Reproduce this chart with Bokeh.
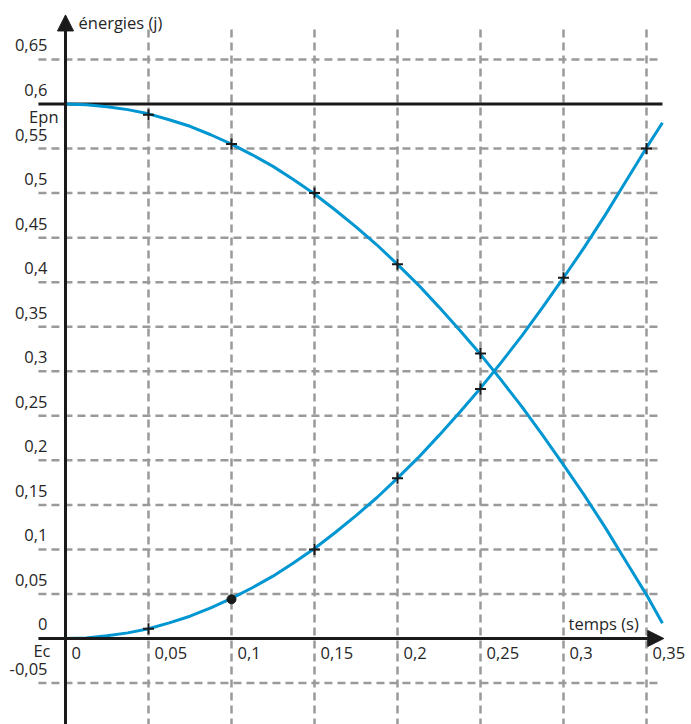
from bokeh.plotting import figure
from bokeh.models import Range1d, Arrow, NormalHead
from bokeh.core.properties import value
from bokeh.embed import file_html
from bokeh.resources import INLINE

# ---- data ----
t_curve = [0, 0.0125, 0.025, 0.0375, 0.05, 0.0625, 0.075, 0.0875, 0.1, 0.1125, 0.125,
           0.1375, 0.15, 0.1625, 0.175, 0.1875, 0.2, 0.2125, 0.225, 0.2375, 0.25,
           0.2625, 0.275, 0.2875, 0.3, 0.3125, 0.325, 0.3375, 0.35, 0.3596]
ec_curve = [0, 0.0007, 0.003, 0.0063, 0.011, 0.0176, 0.025, 0.0345, 0.045, 0.057, 0.07,
            0.085, 0.101, 0.119, 0.138, 0.158, 0.18, 0.203, 0.228, 0.254, 0.281,
            0.31, 0.34, 0.372, 0.405, 0.439, 0.475, 0.513, 0.551, 0.579]
ep_curve = [0.6, 0.5993, 0.597, 0.5937, 0.589, 0.5824, 0.575, 0.5655, 0.555, 0.543, 0.53,
            0.515, 0.499, 0.481, 0.462, 0.442, 0.42, 0.397, 0.372, 0.346, 0.319,
            0.29, 0.26, 0.228, 0.195, 0.161, 0.125, 0.087, 0.049, 0.017]

t_ep_pts = [0.05, 0.1, 0.15, 0.2, 0.25]
ep_pts = [0.588, 0.555, 0.5, 0.42, 0.32]
t_ec_pts = [0.05, 0.15, 0.2, 0.25, 0.3, 0.35]
ec_pts = [0.011, 0.1, 0.18, 0.28, 0.405, 0.55]
t_dot = [0.1]
ec_dot = [0.044]

em_total = 0.6

x_ticks = [0, 0.05, 0.1, 0.15, 0.2, 0.25, 0.3, 0.35]
x_labels = ["0", "0,05", "0,1", "0,15", "0,2", "0,25", "0,3", "0,35"]
y_ticks = [-0.05, 0, 0.05, 0.1, 0.15, 0.2, 0.25, 0.3, 0.35, 0.4, 0.45, 0.5, 0.55, 0.6, 0.65]
y_labels = ["-0,05", "0", "0,05", "0,1", "0,15", "0,2", "0,25", "0,3", "0,35", "0,4",
            "0,45", "0,5", "0,55", "0,6", "0,65"]

# ---- layout ----
W, H = 691, 724
X0 = -0.039157
X1 = X0 + W * 0.05 / 83.0
Y1 = 0.71621
Y0 = Y1 - H * 0.05 / 44.54
x_left = -0.0163     # start of horizontal lines
x_right = 0.3596     # end of horizontal lines
grid_top = 0.6836
axis_top = 0.700

FONT = value("Open Sans")
FS = "16.5px"
TXT = "#262626"
BLUE = "#0096d2"
GRID = "#9a9a9a"
INK = "#1a1a1a"

p = figure(width=W, height=H, output_backend="svg", toolbar_location=None,
           x_range=Range1d(X0, X1), y_range=Range1d(Y0, Y1), min_border=0)
p.axis.visible = False
p.grid.visible = False
p.outline_line_color = None

# dashed grid
vx = [t for t in x_ticks if t != 0]
p.segment(x0=vx, y0=[grid_top] * len(vx), x1=vx, y1=[Y0] * len(vx),
          line_color=GRID, line_width=2.5, line_dash="8 5")
hy = [y for y in y_ticks if y not in (0, 0.6)]
p.segment(x0=[x_left] * len(hy), y0=hy, x1=[x_right] * len(hy), y1=hy,
          line_color=GRID, line_width=2.5, line_dash="8 5")

# total energy line
p.segment(x0=[x_left], y0=[em_total], x1=[x_right], y1=[em_total],
          line_color=INK, line_width=3)

# curves
p.line(t_curve, ep_curve, line_color=BLUE, line_width=3)
p.line(t_curve, ec_curve, line_color=BLUE, line_width=3)

# axes
p.add_layout(Arrow(end=NormalHead(size=16, fill_color=INK, line_color=INK),
                   x_start=x_left, y_start=0, x_end=0.3604, y_end=0,
                   line_color=INK, line_width=3))
p.add_layout(Arrow(end=NormalHead(size=16, fill_color=INK, line_color=INK),
                   x_start=0, y_start=Y0, x_end=0, y_end=axis_top,
                   line_color=INK, line_width=3))

# markers
p.scatter(t_ep_pts, ep_pts, marker="cross", size=11, line_width=2, line_color=INK)
p.scatter(t_ec_pts, ec_pts, marker="cross", size=11, line_width=2, line_color=INK)
p.scatter(t_dot, ec_dot, marker="circle", size=9, fill_color=INK, line_color=INK)

# tick labels
p.text(x=[0] * len(y_ticks), y=y_ticks, text=y_labels, x_offset=-18, y_offset=-14,
       text_align="right", text_baseline="middle", text_font=FONT,
       text_font_size=FS, text_color=TXT)
p.text(x=x_ticks, y=[0] * len(x_ticks), text=x_labels, x_offset=6, y_offset=15,
       text_align="left", text_baseline="middle", text_font=FONT,
       text_font_size=FS, text_color=TXT)

# names
p.text(x=[0, 0], y=[em_total, 0], text=["Epn", "Ec"], x_offset=[-7, -15], y_offset=[12, 12],
       text_align="right", text_baseline="middle", text_font=FONT,
       text_font_size=FS, text_color=TXT)
p.text(x=[0], y=[axis_top], text=["énergies (j)"], x_offset=13, y_offset=8,
       text_align="left", text_baseline="middle", text_font=FONT,
       text_font_size=FS, text_color=TXT)
p.text(x=[0.3], y=[0], text=["temps (s)"], x_offset=5, y_offset=-15,
       text_align="left", text_baseline="middle", text_font=FONT,
       text_font_size=FS, text_color=TXT)

open("out.html", "w").write(file_html(p, INLINE))
